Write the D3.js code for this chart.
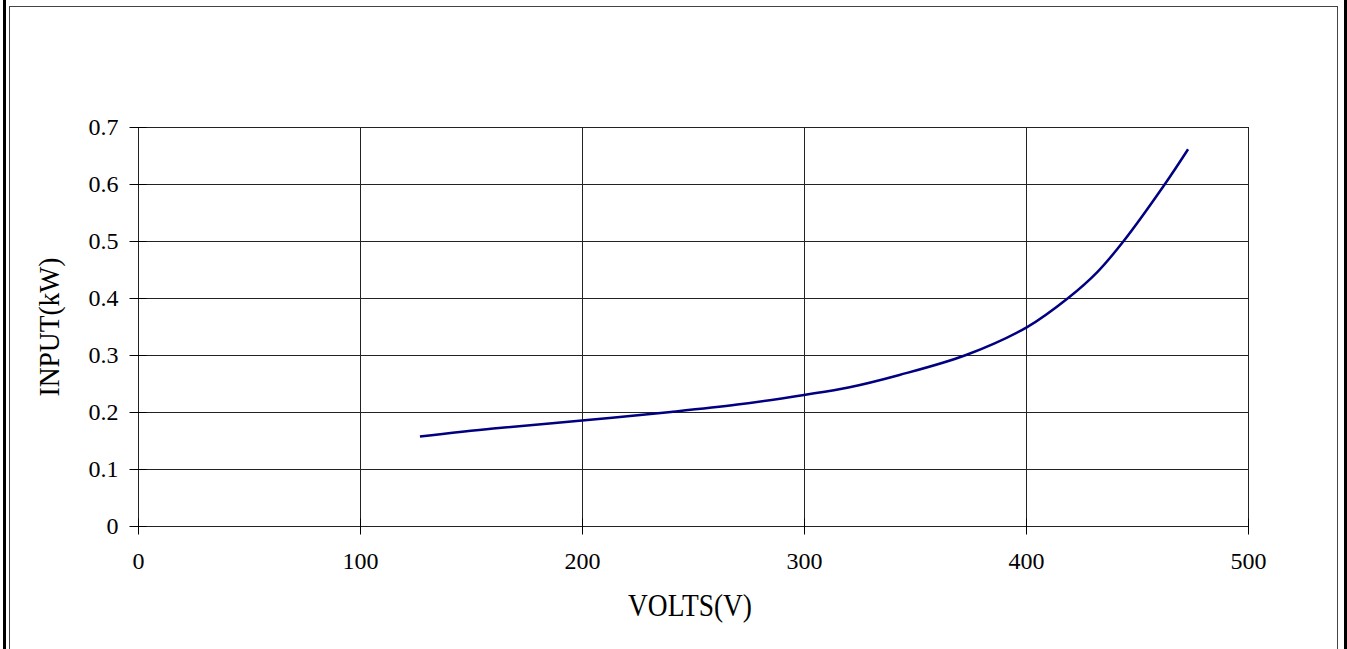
<!DOCTYPE html>
<html><head><meta charset="utf-8">
<script src="https://cdn.jsdelivr.net/npm/d3@7"></script>
<style>html,body{margin:0;padding:0;background:#fff;}svg{display:block;}</style>
</head><body>
<svg id="c" width="1347" height="649"></svg>
<script>
const volts = [127, 160, 200, 240, 270, 300, 320, 343, 373, 400.5, 419, 432, 444, 462.6, 473];
const inputKW = [0.157, 0.171, 0.185, 0.200, 0.213, 0.230, 0.243, 0.265, 0.300, 0.349, 0.400, 0.445, 0.500, 0.600, 0.661];
const xTicks = [0, 100, 200, 300, 400, 500];
const yTicks = [0, 0.1, 0.2, 0.3, 0.4, 0.5, 0.6, 0.7];
const xTitle = "VOLTS(V)";
const yTitle = "INPUT(kW)";

const svg = d3.select("#c");
const font = "'Liberation Serif','DejaVu Serif',serif";
// frame
svg.append("rect").attr("x", 9.5).attr("y", 6.5).attr("width", 1328).attr("height", 700)
  .attr("fill", "none").attr("stroke", "#444").attr("stroke-width", 1);
svg.append("rect").attr("x", 3).attr("y", 0).attr("width", 3).attr("height", 649).attr("fill", "#000");
svg.append("rect").attr("x", 1344).attr("y", 0).attr("width", 3).attr("height", 649).attr("fill", "#000");

const x = d3.scaleLinear().domain([0, 500]).range([138, 1248]);
const y = d3.scaleLinear().domain([0, 0.7]).range([526, 127]);

const g = svg.append("g");
// grid
g.selectAll(".hg").data(yTicks).join("line")
  .attr("x1", x(0)).attr("x2", x(500))
  .attr("y1", d => Math.round(y(d)) + 0.5).attr("y2", d => Math.round(y(d)) + 0.5)
  .attr("stroke", "#222").attr("stroke-width", 1);
g.selectAll(".vg").data(xTicks).join("line")
  .attr("y1", y(0.7)).attr("y2", y(0))
  .attr("x1", d => Math.round(x(d)) + 0.5).attr("x2", d => Math.round(x(d)) + 0.5)
  .attr("stroke", "#222").attr("stroke-width", 1);

// axes with cross ticks
const yAxis = d3.axisLeft(y).tickValues(yTicks).tickSize(0).tickPadding(0).tickFormat(d3.format(".1~f"));
const ya = svg.append("g").attr("transform", `translate(${Math.round(x(0)) + 0.5},0)`).call(yAxis);
ya.select(".domain").remove();
ya.selectAll(".tick line").attr("x1", -9).attr("x2", 8).attr("stroke", "#000");
ya.selectAll(".tick text").attr("x", -20).attr("font-family", font).attr("font-size", 24).attr("fill", "#000")
  .attr("dy", "0.33em");

const xAxis = d3.axisBottom(x).tickValues(xTicks).tickSize(0).tickPadding(0).tickFormat(d3.format("d"));
const xa = svg.append("g").attr("transform", `translate(0,${Math.round(y(0)) + 0.5})`).call(xAxis);
xa.select(".domain").remove();
xa.selectAll(".tick line").attr("y1", -8).attr("y2", 8).attr("stroke", "#000");
xa.selectAll(".tick text").attr("y", 42).attr("dy", 0).attr("font-family", font).attr("font-size", 24).attr("fill", "#000");

// curve
const line = d3.line().x((d, i) => x(volts[i])).y(d => y(d)).curve(d3.curveCatmullRom.alpha(0.5));
svg.append("path").attr("d", line(inputKW)).attr("fill", "none")
  .attr("stroke", "#000080").attr("stroke-width", 2.5);

// titles
svg.append("text").attr("x", 690).attr("y", 616).attr("text-anchor", "middle")
  .attr("font-family", font).attr("font-size", 31).attr("fill", "#000")
  .attr("textLength", 124).attr("lengthAdjust", "spacingAndGlyphs").text(xTitle);
svg.append("text").attr("transform", "translate(59,327) rotate(-90)").attr("text-anchor", "middle")
  .attr("font-family", font).attr("font-size", 30).attr("fill", "#000")
  .attr("textLength", 139).attr("lengthAdjust", "spacingAndGlyphs").text(yTitle);
</script>
</body></html>
